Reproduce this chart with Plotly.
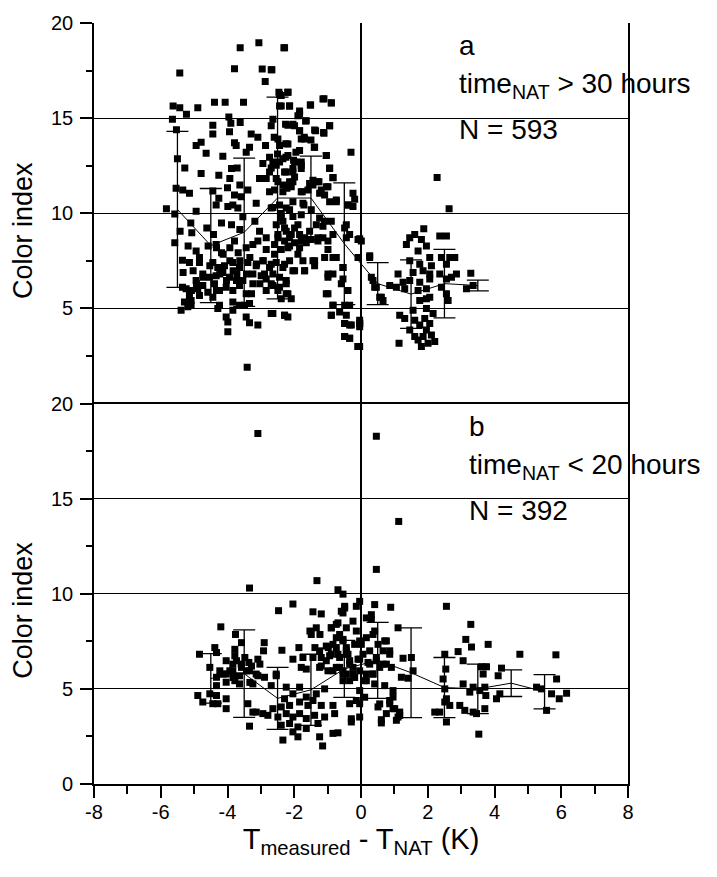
import plotly.graph_objects as go

# ---------------- data ----------------
# panel a : time_NAT > 30 hours  (x = T_measured - T_NAT, y = colour index)
a_points = [
    (-5.43,17.37),(-3.62,18.7),(-3.06,18.96),(-2.31,18.7),(-3.79,17.6),(-2.96,17.58),(-2.67,17.54),(-2.87,16.93),
    (-2.46,16.36),(-2.19,16.36),(-1.14,16.0),(-0.89,15.8),(-1.52,15.69),(-2.44,15.64),(-2.14,15.64),(-2.39,16.19),
    (-5.63,15.64),(-5.43,15.55),(-5.23,15.2),(-4.89,15.55),(-4.39,15.84),(-4.07,15.84),(-3.52,15.84),(-3.96,15.06),
    (-5.65,14.94),(-5.53,14.39),(-4.44,14.63),(-3.9,14.73),(-3.62,14.77),(-2.64,14.94),(-2.26,14.68),(-2.04,14.68),
    (-1.84,15.2),(-1.66,14.85),(-1.36,14.34),(-1.12,14.25),(-0.94,14.6),
    (-4.44,14.16),(-3.94,14.29),(-3.29,14.16),(-3.09,13.99),(-2.86,13.56),(-2.6,13.99),(-2.25,13.65),(-1.84,14.34),
    (-1.79,13.9),(-1.7,13.99),(-1.5,13.85),(-1.4,13.47),(-4.94,13.56),(-4.79,13.73),(-4.64,13.16),(-3.44,13.21),
    (-3.74,13.56),(-3.79,13.7),(-4.14,13.0),(-3.34,13.47),(-2.5,13.12),(-2.25,12.95),(-1.95,13.21),(-1.04,13.04),
    (-5.5,12.87),(-5.28,12.38),
    (-4.79,12.09),(-4.26,12.0),(-3.88,12.35),(-3.71,12.38),(-3.93,11.83),(-3.63,11.48),(-4.0,11.34),(-2.94,12.61),
    (-2.69,12.38),(-3.04,11.83),(-2.84,11.83),(-2.64,12.69),(-2.44,12.69),(-2.02,12.78),(-1.79,12.69),(-2.54,11.83),
    (-2.24,12.17),(-2.34,11.48),(-2.04,12.35),(-1.99,11.91),(-1.79,12.35),(-0.94,12.35),(-0.84,11.86),(-1.26,11.65),
    (-5.54,11.31),(-5.34,11.22),(-5.14,11.05),(-4.44,11.17),(-3.39,11.22),(-3.14,10.53),(-3.59,10.87),(-3.84,10.44),
    (-3.79,10.96),(-4.26,10.79),(-2.74,11.13),(-2.59,11.22),(-2.34,11.13),(-2.22,11.31),(-2.09,11.39),(-2.04,11.65),
    (-1.76,11.13),(-1.44,11.48),(-1.19,11.22),(-0.99,11.39),(-1.09,10.96),(-1.71,10.44),(-2.04,10.61),(-0.74,10.61),
    (-0.24,11.05),
    (-5.83,10.23),(-5.58,9.96),(-4.94,10.1),(-4.34,10.44),(-3.99,10.35),(-3.69,10.27),(-3.54,9.82),(-2.64,10.3),
    (-2.44,10.44),(-2.24,10.27),(-2.39,9.99),(-2.14,10.18),(-2.04,9.83),(-1.79,9.92),(-1.74,10.53),(-1.49,10.18),
    (-1.24,9.75),(-1.09,9.58),(-0.39,10.44),(-0.24,10.35),
    (-5.42,9.06),(-5.1,9.49),(-5.07,8.97),(-4.62,9.23),(-4.42,8.88),(-4.18,9.49),(-3.88,9.4),(-3.63,9.14),
    (-3.18,9.58),(-3.04,9.06),(-2.84,8.71),(-2.54,9.4),(-2.49,8.88),(-2.34,9.58),(-2.24,9.06),(-2.14,8.71),
    (-1.99,9.23),(-1.84,8.88),(-1.69,8.71),(-1.54,9.06),(-1.34,9.4),(-1.14,9.32),(-0.84,8.88),(-0.44,9.4),
    (-0.44,8.71),(-5.58,8.45),(-5.18,8.28),(-4.94,8.02),(-4.84,7.67),(-4.58,8.28),(-4.34,8.36),(-4.18,7.93),
    (-3.93,8.19),(-3.79,8.54),(-3.68,7.93),(-3.44,8.19),(-3.24,8.36),(-3.09,8.54),(-2.84,8.1),(-2.59,8.36),
    (-2.39,8.1),(-2.29,8.54),(-2.14,8.28),(-1.99,8.45),(-1.84,8.19),(-1.64,8.45),(-1.49,8.62),(-1.29,8.54),
    (-1.14,8.71),(-0.99,8.1),(-0.34,8.88),(-0.09,8.62),
    (-5.35,7.53),(-5.14,7.41),(-4.84,7.41),(-4.44,7.41),(-4.29,7.15),(-4.09,7.24),(-3.84,7.41),(-3.64,7.15),
    (-3.39,7.41),(-3.14,7.24),(-2.94,7.5),(-2.74,7.15),(-2.54,7.41),(-2.34,7.15),(-2.14,7.5),(-1.99,6.98),
    (-1.74,7.5),(-1.44,7.5),(-1.39,7.24),(-1.09,7.67),(-0.84,7.67),(-0.54,7.15),(-0.09,7.67),(-5.33,6.89),
    (-5.03,6.98),(-4.74,6.81),(-4.54,6.63),(-4.34,6.72),(-4.14,6.89),(-3.94,6.63),(-3.72,6.81),(-3.54,6.46),
    (-3.24,6.81),(-2.99,6.72),(-2.84,6.55),(-2.64,6.81),(-2.44,6.63),(-2.24,6.46),(-2.04,6.98),(-1.69,6.98),
    (-0.99,6.63),(-0.84,6.81),(-0.54,6.55),
    (-5.35,6.11),(-5.24,6.03),(-4.94,6.46),(-4.89,6.03),(-4.74,6.2),(-4.59,5.85),(-4.39,6.29),(-4.24,5.94),
    (-4.04,6.11),(-3.84,5.94),(-3.64,6.2),(-3.44,5.77),(-3.24,6.29),(-2.84,5.94),(-2.64,6.2),(-2.44,6.11),
    (-2.24,6.29),(-2.24,5.77),(-5.14,5.68),(-5.09,5.42),(-4.84,5.68),(-4.44,5.59),(-5.29,5.33),(-5.09,5.16),
    (-5.39,4.9),(-5.19,5.08),(-4.24,5.16),(-3.84,5.33),(-3.64,5.16),(-3.49,5.16),(-3.34,5.25),(-2.39,5.51),
    (-2.09,5.51),(-0.49,5.16),(-0.44,4.64),(-0.99,5.77),(-0.84,5.16),(-0.89,4.64),(-0.64,4.81),(-0.34,5.16),
    (-4.29,4.99),(-4.04,4.55),(-3.99,4.29),(-3.84,4.9),(-3.44,4.55),(-3.34,4.24),(-3.09,4.12),(-2.64,4.73),
    (-2.29,4.64),(-2.19,4.55),(-3.99,3.77),(-0.49,4.21),(-0.29,4.12),(-0.04,4.21),(-0.49,3.52),(-0.34,3.43),
    (-0.09,3.0),(-3.41,1.9),
    (-4.33,8.19),(-4.13,7.85),(-3.93,7.5),(-3.83,6.98),(-4.03,6.46),(-4.23,6.81),(-4.53,7.24),(-4.73,6.63),
    (-4.93,6.29),(-5.08,5.94),(-4.33,5.94),(-3.73,6.46),(-3.63,7.5),(-3.33,7.67),(-3.13,7.33),(-2.93,7.5),
    (-3.43,6.81),(-3.03,6.29),(-3.28,5.77),
    (-2.69,10.27),(-2.39,9.75),(-2.29,9.23),(-2.49,8.71),(-2.09,8.88),(-1.89,9.4),(-1.79,8.54),(-2.19,8.19),
    (-1.89,7.84),(-2.59,7.84),(-2.69,7.32),(-2.29,7.32),(-2.89,6.81),(-1.69,6.98),(-1.39,7.5),(-1.29,8.71),
    (-0.99,8.54),(-0.89,9.58),(-0.74,7.67),(-0.49,9.23),(-0.54,7.15),(-0.99,6.81),(-0.59,6.29),(-0.39,5.94),
    (-1.04,5.77),(-0.84,5.16),(0.31,6.63),(0.41,6.11),(0.61,5.59),(0.26,7.67),(0.01,8.54),(-2.19,5.77),
    (-2.49,5.94),(-2.69,6.29),(-2.29,4.64),(-2.69,4.73),(-0.89,4.64),(-0.49,4.21),(-0.34,4.12),(-0.49,3.52),
    (-0.34,3.43),(-0.09,3.0),(-0.04,4.38),(-0.04,4.03),
    (-2.29,18.7),(-2.69,17.54),(-2.44,16.24),(-2.19,16.36),(-2.39,15.64),(-2.14,15.64),(-1.84,15.38),(-1.51,15.69),
    (-1.11,16.02),(-0.89,15.81),(-1.64,14.86),(-1.89,15.12),(-2.69,14.6),(-2.19,14.63),(-1.99,14.6),(-1.84,14.34),
    (-1.69,13.9),(-1.39,14.37),(-1.11,14.2),(-0.94,14.6),(-0.3,13.21),(-2.49,13.9),(-2.44,13.56),(-2.19,13.64),
    (-1.84,13.3),(-1.39,13.47),(-1.04,13.04),(-2.74,12.95),(-2.34,12.87),(-2.19,13.04),(-1.99,12.69),(-1.79,12.52),
    (-0.94,12.38),(-0.84,11.88),(-2.54,12.52),(-2.74,12.17),(-2.29,12.17),(-2.04,12.17),(-2.49,11.65),(-2.14,11.65),
    (-1.44,11.74),(-1.29,11.65),(-1.54,11.56),(-1.04,11.39),(-1.79,11.13),(-1.59,11.22),(-1.24,11.05),(-0.94,10.61),
    (-0.74,10.7),(-0.19,10.73),(-0.39,10.44),
    (2.28,11.88),(2.64,10.23),(-0.04,8.66),(1.88,9.19),(1.61,8.88),(1.81,8.62),(2.36,8.8),(2.56,8.8),
    (1.46,8.71),(1.36,8.36),(1.96,8.28),(1.71,8.02),(2.41,7.67),(2.66,7.67),(2.06,7.67),(1.76,7.32),
    (1.46,7.5),(2.81,7.67),(0.26,7.76),(2.11,7.24),(2.56,7.32),(1.86,6.98),(1.56,6.89),(1.11,6.81),
    (2.06,6.81),(2.36,6.81),(2.86,6.81),(3.29,6.84),(1.26,6.37),(1.46,6.46),(1.76,6.37),(2.06,6.55),
    (2.56,6.55),(2.71,6.63),(0.36,6.46),(0.46,6.11),(0.86,6.2),(1.06,6.11),(1.31,6.03),(1.71,5.94),
    (1.96,6.03),(2.41,6.11),(3.16,6.03),(3.36,6.2),(2.56,5.77),(2.06,5.59),(1.76,5.42),(1.96,5.51),
    (0.56,5.59),(0.66,5.42),(2.61,5.42),(1.56,4.9),(1.96,4.99),(2.16,4.73),(1.16,4.64),(1.31,4.47),
    (1.61,4.38),(1.91,4.47),(2.06,4.21),(1.76,4.12),(1.46,3.86),(1.96,3.86),(2.11,3.6),(1.86,3.52),
    (1.61,3.52),(2.21,3.26),(2.01,3.17),(1.81,3.0),(1.14,3.17),(1.71,3.34),(-0.04,4.21),(-0.04,3.0),
]

# panel b : time_NAT < 20 hours
b_points = [
    (-3.09,18.42),(-3.34,10.3),(-1.32,10.69),(-0.69,10.21),(-0.54,9.98),(-2.04,9.46),(-2.47,9.11),(-1.44,9.05),
    (-1.19,8.94),(-0.49,9.25),(-0.54,8.99),(-0.14,9.34),(-4.2,8.26),(-3.76,7.86),(-3.58,7.43),(-2.9,7.43),
    (-1.53,8.04),(-1.23,7.86),(-0.89,8.21),(-0.74,8.39),(-0.64,7.86),(-0.14,8.04),(-4.38,7.17),(-3.78,7.08),
    (-2.92,7.0),(-2.37,7.03),(-1.86,7.17),(-1.38,7.17),(-0.98,7.17),(-0.84,7.34),(-0.44,7.17),(-0.19,7.34),
    (-4.84,6.82),(-4.33,6.91),(-3.78,6.74),(-3.48,6.65),(-4.04,6.48),(-3.84,6.3),(-3.59,6.3),(-3.36,6.39),
    (-3.09,6.56),(-2.04,6.56),(-1.74,6.65),(-1.44,6.65),(-1.19,6.65),(-0.94,6.74),(-0.69,6.82),(-0.39,6.82),
    (-0.09,6.56),(-4.53,6.13),(-4.23,5.95),(-4.04,5.78),(-3.84,5.95),(-3.64,5.69),(-3.34,5.95),(-3.14,5.78),
    (-2.89,5.61),(-2.54,5.78),(-1.79,6.13),(-1.64,6.04),(-1.24,6.13),(-0.99,5.95),(-0.74,6.13),(-0.54,5.95),
    (-0.34,6.3),(-0.24,5.78),(-4.33,5.61),(-4.04,5.35),(-3.78,5.43),(-3.64,5.26),(-3.24,5.26),(-4.89,4.65),
    (-4.53,4.74),(-4.33,5.17),(-4.33,4.65),(-4.04,4.48),(-4.74,4.31),(-4.44,4.22),(-4.29,4.22),(-4.04,3.96),
    (-3.39,4.22),(-3.14,3.78),(-2.94,3.7),(-3.24,3.78),(-2.79,3.61),(-2.64,3.96),(-2.69,5.17),(-2.54,5.69),
    (-2.24,5.09),(-2.04,4.74),(-1.84,5.09),(-1.64,4.57),(-1.34,4.74),(-1.09,5.0),(-2.29,4.48),(-2.39,4.05),
    (-2.14,4.13),(-1.84,4.31),(-1.59,4.13),(-1.44,4.39),(-1.19,4.13),(-0.84,4.13),(-0.34,4.22),(-0.14,4.39),
    (-2.49,3.52),(-2.24,3.7),(-2.04,3.52),(-1.84,3.7),(-1.64,3.44),(-1.39,3.61),(-1.09,3.52),(-0.79,3.7),
    (-2.39,3.09),(-2.14,3.18),(-1.89,3.0),(-1.64,2.92),(-1.29,3.18),(-3.34,3.04),(-0.29,3.26),(-2.04,2.74),
    (-1.89,2.48),(-2.34,2.31),(-1.24,2.48),(-0.84,2.66),(-0.69,2.69),(-1.15,2.0),
    (0.46,18.28),(1.13,13.8),(0.46,11.28),(2.56,9.34),(-0.04,9.6),(0.41,9.43),(0.89,9.29),(0.31,8.65),
    (1.11,8.21),(3.29,8.39),(3.14,7.6),(3.81,7.34),(3.31,7.2),(-0.04,7.52),(0.16,7.69),(0.36,7.86),
    (0.51,7.34),(0.71,7.52),(0.86,7.0),(0.26,7.0),(2.91,6.96),(5.84,6.79),(2.51,6.82),(1.26,6.61),
    (1.51,6.65),(-0.04,6.56),(0.21,6.39),(0.46,6.48),(0.66,6.3),(0.91,6.13),(3.06,6.48),(3.61,6.16),
    (3.76,6.16),(4.21,6.09),(2.54,6.04),(1.21,5.61),(1.41,5.56),(1.56,5.95),(3.66,5.78),(4.11,5.69),
    (4.76,6.82),(5.86,5.52),(-0.04,5.95),(0.16,5.78),(0.36,5.78),(0.11,5.43),(0.41,5.26),(0.71,5.17),
    (2.46,5.52),(3.06,5.26),(3.36,5.09),(3.71,5.09),(5.26,5.09),(5.41,5.0),(-0.04,4.91),(0.96,4.91),
    (2.51,5.0),(3.26,4.83),(3.56,4.91),(4.16,4.74),(5.71,4.74),(6.16,4.77),(5.94,4.48),(0.96,4.57),
    (2.56,4.48),(3.74,4.65),(4.06,4.48),(-0.04,4.22),(0.51,4.05),(0.86,4.22),(1.01,3.96),(2.51,4.31),
    (2.66,4.13),(2.96,4.13),(3.11,3.87),(3.36,3.78),(3.71,3.96),(5.56,3.87),(0.76,3.7),(1.16,3.61),
    (2.36,3.78),(2.21,3.78),(3.46,3.7),(1.06,3.35),(0.61,3.21),(2.56,3.26),(3.53,2.62),(-0.04,3.52),
    (-1.24,7.0),(-1.04,7.25),(-0.89,6.82),(-0.74,7.17),(-0.64,6.65),(-0.44,7.0),(-0.34,6.48),(-0.64,6.13),
    (-0.44,5.78),(-0.84,5.95),(-0.54,5.43),(-1.04,6.48),(-1.19,6.2),(-1.49,7.86),(-1.34,8.21),(-0.89,8.21),
    (-0.69,8.47),(-0.74,7.69),(-0.54,7.6),(-0.44,8.21),(-0.59,9.08),(-0.49,9.34),(-0.24,8.56),(-3.73,6.48),
    (-3.93,5.95),(-4.13,5.78),(-3.83,5.6),(-3.58,6.13),(-3.43,5.95),(-3.28,6.2),(-3.03,6.3),(-3.33,5.34),
    (-3.09,5.69),
    (-0.54,7.52),(-0.44,6.82),(-0.24,6.13),(-0.54,5.78),(-0.34,5.43),(-0.19,5.6),(0.06,6.82),(0.26,6.3),
    (0.46,6.65),(0.56,6.13),(0.36,5.78),(0.16,5.43),(0.66,7.0),(0.76,7.52),(0.41,8.04),(0.16,8.73),
    (0.31,8.9),(0.76,6.3),(0.86,6.82),(0.01,7.34),(0.11,4.56),(0.56,4.21),(0.86,4.39),(0.96,3.96),
    (1.16,3.78),(1.11,3.52),(-0.29,3.43),(0.61,3.38),
]

# binned means with standard-deviation bars
a_bin_x = [-5.5, -4.5, -3.5, -2.5, -1.5, -0.5, 0.5, 1.5, 2.5, 3.5]
a_mean = [10.2, 8.3, 9.0, 10.8, 10.8, 8.4, 6.3, 5.75, 6.3, 6.2]
a_err = [4.1, 3.0, 3.9, 5.3, 2.2, 3.2, 1.1, 1.8, 1.8, 0.28]

b_bin_x = [-4.5, -3.5, -2.5, -1.5, -0.5, 0.5, 1.5, 2.5, 3.5, 4.5, 5.5]
b_mean = [5.55, 5.8, 4.5, 4.95, 6.05, 6.5, 5.85, 5.07, 5.0, 5.3, 4.85]
b_err = [1.3, 2.3, 1.63, 1.87, 1.5, 2.0, 2.36, 1.58, 1.3, 0.7, 0.9]

x_tick_vals = [-8, -6, -4, -2, 0, 2, 4, 6, 8]
x_tick_text = ["-8", "-6", "-4", "-2", "0", "2", "4", "6", "8"]
y_tick_vals_b = [0, 5, 10, 15, 20]
y_tick_vals_a = [5, 10, 15, 20]
y_minor_vals = [2.5, 7.5, 12.5, 17.5]

label_a = ["a", "time<sub>NAT</sub> &gt; 30 hours", "N = 593"]
label_b = ["b", "time<sub>NAT</sub> &lt; 20 hours", "N = 392"]

FONT = "Liberation Sans, Arial, sans-serif"
BLACK = "black"

fig = go.Figure()

# panel a (top)
fig.add_trace(go.Scatter(x=[p[0] for p in a_points], y=[p[1] for p in a_points], mode="markers",
                         marker=dict(symbol="square", size=7, color=BLACK), xaxis="x2", yaxis="y2",
                         hoverinfo="skip"))
fig.add_trace(go.Scatter(x=a_bin_x, y=a_mean, mode="lines", line=dict(color=BLACK, width=1),
                         error_y=dict(type="data", array=a_err, color=BLACK, thickness=1.3, width=11),
                         xaxis="x2", yaxis="y2"))
# panel b (bottom)
fig.add_trace(go.Scatter(x=[p[0] for p in b_points], y=[p[1] for p in b_points], mode="markers",
                         marker=dict(symbol="square", size=7, color=BLACK), xaxis="x", yaxis="y",
                         hoverinfo="skip"))
fig.add_trace(go.Scatter(x=b_bin_x, y=b_mean, mode="lines", line=dict(color=BLACK, width=1),
                         error_y=dict(type="data", array=b_err, color=BLACK, thickness=1.3, width=11),
                         xaxis="x", yaxis="y"))

axis_line = dict(showline=True, linecolor=BLACK, linewidth=1.6, mirror=True)

fig.update_layout(
    width=717, height=877,
    margin=dict(l=94, r=89, t=16, b=93),
    plot_bgcolor="white", paper_bgcolor="white",
    showlegend=False,
    font=dict(family=FONT, size=20, color=BLACK),
    xaxis=dict(domain=[0, 1], anchor="y", range=[-8, 8], tickmode="array",
               tickvals=x_tick_vals, ticktext=x_tick_text,
               ticks="outside", ticklen=12, tickwidth=1.5, tickcolor=BLACK, ticklabelstandoff=-3,
               minor=dict(tickmode="linear", tick0=-8, dtick=1, ticks="outside", ticklen=8,
                          tickwidth=1.5, tickcolor=BLACK, showgrid=False),
               showgrid=False, zeroline=True, zerolinecolor=BLACK, zerolinewidth=1.6,
               title=dict(text="T<sub>measured</sub> - T<sub>NAT</sub> (K)", font=dict(size=29), standoff=6),
               **axis_line),
    xaxis2=dict(domain=[0, 1], anchor="y2", range=[-8, 8], matches="x",
                showticklabels=False, ticks="", showgrid=False, showline=False,
                zeroline=True, zerolinecolor=BLACK, zerolinewidth=1.6),
    yaxis=dict(domain=[0, 0.5], anchor="x", range=[0, 20], tickmode="array", tickvals=y_tick_vals_b,
               ticks="outside", ticklen=12, tickwidth=1.5, tickcolor=BLACK, ticklabelstandoff=3,
               minor=dict(tickmode="array", tickvals=y_minor_vals, ticks="outside", ticklen=6,
                          tickwidth=1.5, tickcolor=BLACK, showgrid=False),
               showgrid=True, gridcolor=BLACK, gridwidth=1.2, zeroline=False, **axis_line),
    yaxis2=dict(domain=[0.5, 1], anchor="x2", range=[0, 20], tickmode="array", tickvals=y_tick_vals_a,
                ticks="outside", ticklen=12, tickwidth=1.5, tickcolor=BLACK, ticklabelstandoff=3,
                minor=dict(tickmode="array", tickvals=y_minor_vals, ticks="outside", ticklen=6,
                           tickwidth=1.5, tickcolor=BLACK, showgrid=False),
                showgrid=True, gridcolor=BLACK, gridwidth=1.2, zeroline=False, **axis_line),
    # inward ticks on the top and right edges of each panel
    xaxis3=dict(overlaying="x", anchor="y", side="top", range=[-8, 8], tickmode="linear", tick0=-8, dtick=1,
                ticks="inside", ticklen=8, tickwidth=1.5, tickcolor=BLACK, showticklabels=False,
                showgrid=False, zeroline=False, showline=False),
    xaxis4=dict(overlaying="x2", anchor="y2", side="top", range=[-8, 8], tickmode="linear", tick0=-8, dtick=1,
                ticks="inside", ticklen=8, tickwidth=1.5, tickcolor=BLACK, showticklabels=False,
                showgrid=False, zeroline=False, showline=True, linecolor=BLACK, linewidth=1.6),
    yaxis3=dict(overlaying="y", anchor="x", side="right", range=[0, 20], tickmode="array", tickvals=y_minor_vals,
                ticks="inside", ticklen=7, tickwidth=1.5, tickcolor=BLACK, showticklabels=False,
                showgrid=False, zeroline=False, showline=False),
    yaxis4=dict(overlaying="y2", anchor="x2", side="right", range=[0, 20], tickmode="array", tickvals=y_minor_vals,
                ticks="inside", ticklen=7, tickwidth=1.5, tickcolor=BLACK, showticklabels=False,
                showgrid=False, zeroline=False, showline=False),
)

ann = []
# panel labels
for (xr, yr, x0, labels) in [("x2", "y2", 2.87, label_a), ("x", "y", 3.17, label_b)]:
    ys = [18.8, 16.7, 14.4]
    for txt, yv in zip(labels, ys):
        ann.append(dict(x=x0, y=yv, xref=xr, yref=yr, text=txt, showarrow=False, xanchor="left",
                        yanchor="middle", font=dict(size=28, family=FONT, color=BLACK)))
# y titles
for yc in [0.728, 0.229]:
    ann.append(dict(x=-0.133, y=yc, xref="paper", yref="paper", text="Color index", textangle=-90,
                    showarrow=False, xanchor="center", yanchor="middle",
                    font=dict(size=27, family=FONT, color=BLACK)))
fig.update_layout(annotations=ann)

fig.write_html("out.html")
